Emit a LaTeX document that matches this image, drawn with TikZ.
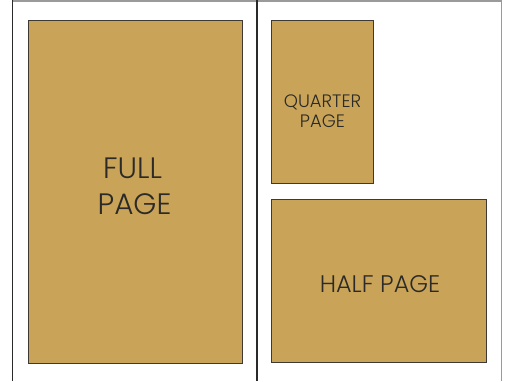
\documentclass[tikz,border=0pt]{standalone}
\usepackage{fontspec}
\setmainfont{Poppins}[UprightFont=* Light]
\definecolor{adfill}{HTML}{C9A458}
\definecolor{adedge}{HTML}{3E3A33}
\definecolor{adtext}{HTML}{2B2A28}
\definecolor{pagegray}{HTML}{9A9A9A}
\definecolor{pagedark}{HTML}{2A2A2A}
\begin{document}
\begin{tikzpicture}[x=1pt,y=-1pt,
  adbox/.style={draw=adedge,fill=adfill,line width=0.9pt,inner sep=0pt,outer sep=0pt,anchor=north west},
  bigtxt/.style={text=adtext,font=\fontsize{29.5}{30}\selectfont,anchor=base,inner sep=0pt},
  midtxt/.style={text=adtext,font=\fontsize{24}{26}\selectfont,anchor=base,inner sep=0pt},
  smalltxt/.style={text=adtext,font=\fontsize{18}{20}\selectfont,anchor=base,inner sep=0pt}]
\useasboundingbox (0,0) rectangle (508,381);
% page outlines
\draw[pagegray,line width=1.2pt] (12,1) -- (502,1);
\draw[pagedark,line width=1.1pt] (12.5,0) -- (12.5,381);
\draw[pagedark,line width=1.3pt] (257,0) -- (257,381);
\draw[pagegray,line width=1.5pt] (501.5,1) -- (501.5,381);
% ad boxes
\node[adbox,minimum width=214pt,minimum height=343pt] (full) at (28,20) {};
\node[adbox,minimum width=102pt,minimum height=163pt] (quarter) at (271,20) {};
\node[adbox,minimum width=215pt,minimum height=163pt] (half) at (271,199) {};
% texts
\node[bigtxt] (fullA) at (132.5,178.5) {FULL};
\node[bigtxt] (fullB) at (134.5,214) {PAGE};
\node[smalltxt] (quarterA) at (322.5,107.3) {QUARTER};
\node[smalltxt] (quarterB) at (322.5,127) {PAGE};
\node[midtxt] (halfT) at (380,292.3) {HALF PAGE};
\end{tikzpicture}
\end{document}
